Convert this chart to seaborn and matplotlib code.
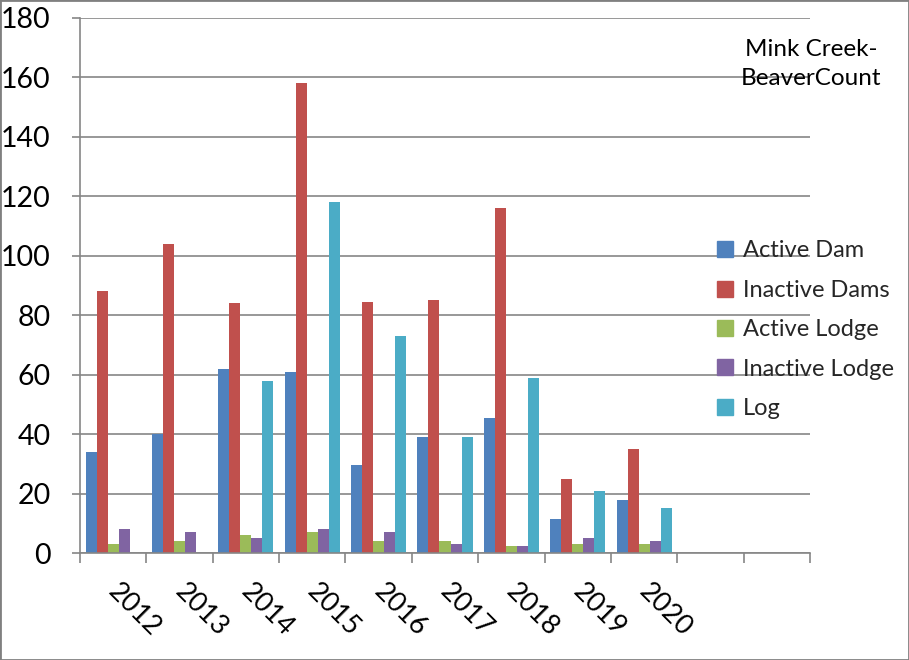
import matplotlib
matplotlib.use("Agg")
import matplotlib.pyplot as plt
import matplotlib.transforms as mtransforms
from matplotlib.patches import Rectangle
from matplotlib.lines import Line2D
import seaborn as sns
import pandas as pd
import numpy as np

years = ["2012", "2013", "2014", "2015", "2016", "2017", "2018", "2019", "2020"]
extra_slots = [" ", "  "]
series = ["Active Dam", "Inactive Dams", "Active Lodge", "Inactive Lodge", "Log"]
active_dam = [34, 40, 62, 61, 29.5, 39, 45.5, 11.5, 18]
inactive_dams = [88, 104, 84, 158, 84.5, 85, 116, 25, 35]
active_lodge = [3, 4, 6, 7, 4, 4, 2.5, 3, 3]
inactive_lodge = [8, 7, 5, 8, 7, 3, 2.5, 5, 4]
log = [0, 0, 58, 118, 73, 39, 59, 21, 15]
colors = ["#4F81BD", "#C0504D", "#9BBB59", "#8064A2", "#4BACC6"]
title_text = "Mink Creek-\nBeaverCount"

sns.set_theme(style="white")
plt.rcParams['font.family'] = ['Lato', 'DejaVu Sans']

rows = []
for s, vals in zip(series, [active_dam, inactive_dams, active_lodge, inactive_lodge, log]):
    for y, v in zip(years, vals):
        rows.append({"year": y, "series": s, "value": v})
df = pd.DataFrame(rows)
order = years + extra_slots

fig = plt.figure(figsize=(9.09, 6.6), dpi=100)
ax = fig.add_axes([80/909, 1-553/660, (810-80)/909, (553-18)/660])

sns.barplot(data=df, x="year", y="value", hue="series", order=order,
            hue_order=series, palette=colors, width=0.83, saturation=1,
            errorbar=None, ax=ax, legend=False, linewidth=0)

grid_c = "#868686"
ax.set_ylim(0, 180)
ax.set_yticks(np.arange(0, 181, 20))
ax.set_xlim(-0.5, len(order) - 0.5)
ax.yaxis.grid(True, color=grid_c, linewidth=1.2)
ax.set_axisbelow(True)
for sp in ["top", "right"]:
    ax.spines[sp].set_visible(False)
for sp in ["left", "bottom"]:
    ax.spines[sp].set_color(grid_c)
    ax.spines[sp].set_linewidth(1.2)
ax.set_xlabel("")
ax.set_ylabel("")

ax.tick_params(axis="y", which="major", left=True, length=6, color=grid_c,
               width=1.2, labelsize=20.5, pad=15, labelcolor="black")
ax.set_xticks(range(len(order)))
ax.set_xticklabels(order, rotation=-45, ha="left", rotation_mode="anchor",
                   fontsize=19.5, color="black")
ax.tick_params(axis="x", which="major", length=0, pad=14)
ax.set_xticks(np.arange(-0.5, len(order), 1.0), minor=True)
ax.tick_params(axis="x", which="minor", bottom=True, length=7, color=grid_c, width=1.2)
offset = mtransforms.ScaledTranslation(8/100, -6/100, fig.dpi_scale_trans)
for lbl in ax.get_xticklabels():
    lbl.set_transform(lbl.get_transform() + offset)

handles = [Line2D([0], [0], marker="s", linestyle="", markersize=11,
                  markerfacecolor=c, markeredgecolor=c) for c in colors]
fig.legend(handles, series, loc="upper left", bbox_to_anchor=(706/909, 1-231/660),
           frameon=False, fontsize=17, handlelength=0.85, handletextpad=0.3,
           labelspacing=0.78, borderaxespad=0)

fig.text(811/909, 1-64/660, title_text, ha="center", va="center",
         fontsize=17.5, linespacing=1.45, color="black")

fig.patches.append(Rectangle((0, 0), 1, 1, transform=fig.transFigure,
                             fill=False, edgecolor="#808080", linewidth=2))

fig.savefig("out.png", dpi=100)
